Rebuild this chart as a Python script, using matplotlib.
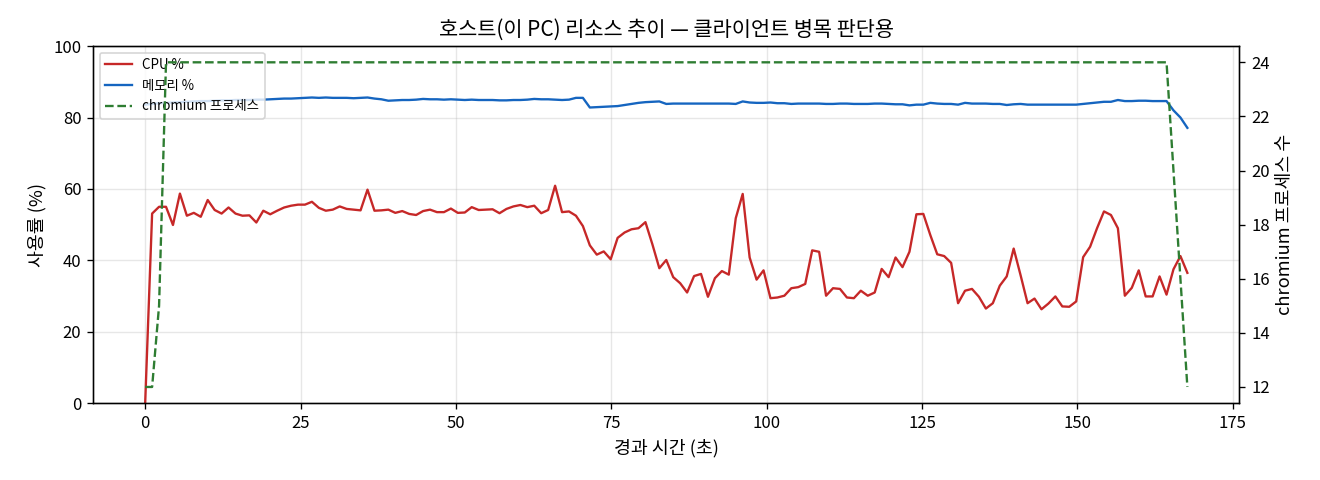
import numpy as np
import matplotlib
matplotlib.use('Agg')
import matplotlib.pyplot as plt

plt.rcParams['font.family'] = ['Noto Sans CJK KR', 'DejaVu Sans']

# sampled about every 1.12 s
cpu_pct = [0, 53.1, 55.0, 55.0, 49.9, 58.7, 52.5, 53.3, 52.2, 56.9, 54.1, 53.1, 54.8, 53.1, 52.5, 52.6, 50.6, 53.9, 52.9, 53.9, 54.8,
           55.3, 55.6, 55.6, 56.4, 54.7, 53.9, 54.2, 55.1, 54.4, 54.2, 54.0, 59.8, 53.9, 54.0, 54.2, 53.3, 53.8, 53.0, 52.7, 53.8,
           54.2, 53.5, 53.5, 54.5, 53.3,
           53.4, 54.9, 54.1, 54.2, 54.3, 53.2, 54.4, 55.1, 55.5, 54.9, 55.3, 53.2, 54.1, 60.9, 53.5, 53.7, 52.5, 49.6, 44.2, 41.6,
           42.5, 40.3, 46.3, 47.8, 48.7,
           49.0, 50.7, 44.5, 37.8, 40.1, 35.3, 33.6, 31.0, 35.6, 36.2, 29.8, 35.0, 37.0, 36.0, 51.8, 58.6, 40.8, 34.6, 37.2, 29.4,
           29.6, 30.1, 32.2, 32.5, 33.4,
           42.8, 42.4, 30.1, 32.2, 32.0, 29.6, 29.4, 31.5, 30.1, 31.0, 37.6, 35.3, 40.8, 38.1, 42.4, 52.9, 53.0, 47.1, 41.7, 41.2,
           39.3, 28.0, 31.5, 32.0, 29.8,
           26.5, 28.0, 32.9, 35.5, 43.3, 35.8, 28.0, 29.3, 26.3, 27.9, 29.9, 27.1, 27.0, 28.5, 40.9, 43.8, 49.0, 53.7, 52.7, 49.0,
           30.1, 32.3, 37.2, 29.9, 29.9, 35.5, 30.4, 37.5, 41.2, 36.5]

mem_pct = [83.6, 83.8, 84.0, 84.1, 84.2, 84.3, 84.4, 84.5, 84.6, 84.6, 84.7, 84.8, 84.8, 84.9, 84.9, 84.9, 85.0, 85.0, 85.1, 85.2, 85.3,
           85.3, 85.4, 85.5, 85.6, 85.5, 85.6, 85.5, 85.5, 85.5, 85.4, 85.5, 85.6, 85.3, 85.1, 84.7, 84.8, 84.9, 84.9, 85.0, 85.2,
           85.1, 85.1, 85.0, 85.1, 85.0,
           84.9, 85.0, 84.9, 84.9, 84.9, 84.8, 84.8, 84.9, 84.9, 85.0, 85.2, 85.1, 85.1, 85.0, 84.9, 85.0, 85.5, 85.5, 82.8, 82.9,
           83.0, 83.1, 83.2, 83.5, 83.8,
           84.1, 84.3, 84.4, 84.5, 83.8, 83.9, 83.9, 83.9, 83.9, 83.9, 83.9, 83.9, 83.9, 83.9, 83.8, 84.5, 84.2, 84.1, 84.1, 84.2,
           84.0, 84.0, 83.8, 83.9, 83.9,
           83.9, 83.9, 83.8, 83.8, 83.9, 83.9, 83.8, 83.8, 83.8, 83.9, 83.9, 83.8, 83.7, 83.7, 83.4, 83.6, 83.6, 84.1, 83.9, 83.8,
           83.8, 83.6, 84.1, 83.9, 83.9,
           83.9, 83.8, 83.8, 83.5, 83.7, 83.8, 83.6, 83.6, 83.6, 83.6, 83.6, 83.6, 83.6, 83.6, 83.8, 84.0, 84.2, 84.4, 84.4, 84.9,
           84.6, 84.6, 84.7, 84.7, 84.6, 84.6, 84.6, 82.0, 80.0, 77.1]

chromium_procs = [12, 12, 15] + [24] * 145 + [20, 16, 12]

sample_interval = 1.118
elapsed = np.arange(len(cpu_pct)) * sample_interval

fig = plt.figure(figsize=(11, 4), dpi=120)
ax = fig.add_subplot(111)
fig.subplots_adjust(left=0.0705, right=0.939, top=0.904, bottom=0.16)

l1, = ax.plot(elapsed, cpu_pct, color='#c62828', linewidth=1.4, label='CPU %')
l2, = ax.plot(elapsed, mem_pct, color='#1565c0', linewidth=1.4, label='메모리 %')
ax.set_ylim(0, 100)
ax.set_xlabel('경과 시간 (초)', fontsize=11)
ax.set_ylabel('사용률 (%)', fontsize=11)
ax.grid(alpha=0.3)
ax.set_title('호스트(이 PC) 리소스 추이 — 클라이언트 병목 판단용', fontsize=12.5)

ax2 = ax.twinx()
l3, = ax2.plot(elapsed, chromium_procs, color='#2e7d32', linewidth=1.4, linestyle='--', label='chromium 프로세스')
ax2.set_ylabel('chromium 프로세스 수', fontsize=11)

ax.legend(handles=[l1, l2, l3], loc='upper left', fontsize=8)

fig.savefig('out.png')
